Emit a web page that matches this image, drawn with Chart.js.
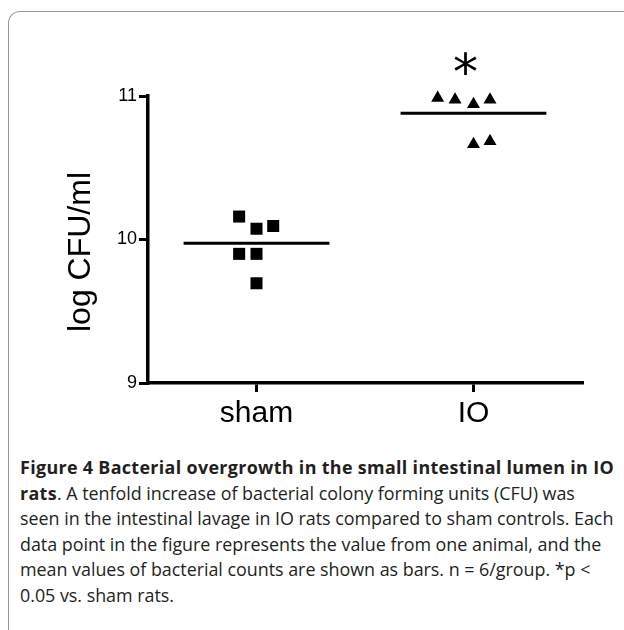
<!DOCTYPE html>
<html>
<head>
<meta charset="utf-8">
<script src="https://cdn.jsdelivr.net/npm/chart.js@4"></script>
<style>
	html, body { margin: 0; padding: 0; background: #fff; }
	body { width: 624px; height: 630px; position: relative; overflow: hidden; }
	#marco {
		position: absolute; left: 8px; top: 11px; width: 700px; height: 700px;
		border-top: 1.5px solid #9a9a9a; border-left: 1.5px solid #9a9a9a;
		border-top-left-radius: 12px;
	}
	#grafico { position: absolute; left: 0; top: 0; }
	#leyenda {
		position: absolute; left: 20px; top: 455px; width: 610px;
		font-family: "Open Sans", sans-serif; font-size: 17.9px; line-height: 25.6px;
		color: #231f20; white-space: nowrap; letter-spacing: -0.02px;
	}
	#leyenda b { font-weight: 700; letter-spacing: 0.33px; }
</style>
</head>
<body>
<div id="marco"></div>
<canvas id="grafico" width="624" height="440"></canvas>
<div id="leyenda">
	<b>Figure 4 Bacterial overgrowth in the small intestinal lumen in IO</b><br>
	<b>rats</b>. A tenfold increase of bacterial colony forming units (CFU) was<br>
	seen in the intestinal lavage in IO rats compared to sham controls. Each<br>
	data point in the figure represents the value from one animal, and the<br>
	mean values of bacterial counts are shown as bars. n = 6/group. *p &lt;<br>
	0.05 vs. sham rats.
</div>
<script>
// Datos (log CFU/ml)
const grupos = ['sham', 'IO'];
const shamValores = [10.16, 10.075, 10.094, 9.90, 9.90, 9.695];
const shamDesplaz = [-0.08, 0, 0.077, -0.08, 0, 0];
const ioValores = [10.986, 10.974, 10.942, 10.974, 10.663, 10.684];
const ioDesplaz = [-0.165, -0.085, 0, 0.076, 0, 0.076];
const medias = [9.974, 10.88];
const anchoMedia = 0.336;
const yTicks = [9, 10, 11];
const tituloY = 'log CFU/ml';
const marcaSignif = '*';
const marcaSignifY = 11.24;

function puntos(valores, desplaz, centro) {
	return valores.map((v, i) => ({ x: centro + desplaz[i], y: v }));
}
function lineaMedia(m, centro) {
	return [{ x: centro - anchoMedia, y: m }, { x: centro + anchoMedia, y: m }];
}

// Plugin: título del eje Y y asterisco de significancia
const textosExtra = {
	id: 'textosExtra',
	afterDatasetsDraw(chart) {
		const ctx = chart.ctx;
		const xs = chart.scales.x, ys = chart.scales.y;
		ctx.save();
		ctx.fillStyle = '#000';
		ctx.translate(81, 252);
		ctx.rotate(-Math.PI / 2);
		ctx.font = '32px "Liberation Sans", Arial, sans-serif';
		ctx.textAlign = 'center';
		ctx.textBaseline = 'middle';
		ctx.fillText(tituloY, 0, 0);
		ctx.restore();

		ctx.save();
		ctx.fillStyle = '#000';
		ctx.font = '50px "DejaVu Sans", sans-serif';
		ctx.textAlign = 'center';
		ctx.textBaseline = 'middle';
		ctx.fillText(marcaSignif, xs.getPixelForValue(1) - 8, ys.getPixelForValue(marcaSignifY) + 14);
		ctx.restore();
	}
};

new Chart(document.getElementById('grafico'), {
	type: 'scatter',
	data: {
		datasets: [
			{ data: puntos(shamValores, shamDesplaz, 0), pointStyle: 'rect', pointRadius: 8.5, backgroundColor: '#000', borderWidth: 0 },
			{ data: puntos(ioValores, ioDesplaz, 1), pointStyle: 'triangle', pointRadius: 7.5, backgroundColor: '#000', borderWidth: 0 },
			{ data: lineaMedia(medias[0], 0), showLine: true, pointRadius: 0, borderColor: '#000', borderWidth: 3 },
			{ data: lineaMedia(medias[1], 1), showLine: true, pointRadius: 0, borderColor: '#000', borderWidth: 3 }
		]
	},
	options: {
		responsive: false,
		animation: false,
		layout: { padding: { top: 96, right: 42, left: 0, bottom: 0 } },
		plugins: { legend: { display: false }, tooltip: { enabled: false } },
		clip: false,
		scales: {
			x: {
				type: 'linear', min: -0.5, max: 1.5,
				afterBuildTicks: s => { s.ticks = grupos.map((g, i) => ({ value: i })); },
				afterFit: s => { s.height = 440 - 383; },
				ticks: {
					callback: v => grupos[v],
					color: '#000', padding: 4,
					font: { family: '"Liberation Sans", Arial, sans-serif', size: 30 }
				},
				grid: { drawOnChartArea: false, color: '#000', lineWidth: 3, tickLength: 9 },
				border: { color: '#000', width: 3.5 }
			},
			y: {
				min: 9, max: 11,
				afterBuildTicks: s => { s.ticks = yTicks.map(v => ({ value: v })); },
				afterFit: s => { s.width = 148; },
				ticks: {
					color: '#000', padding: 2,
					font: { family: '"Liberation Sans", Arial, sans-serif', size: 18 }
				},
				grid: { drawOnChartArea: false, color: '#000', lineWidth: 3, tickLength: 9 },
				border: { color: '#000', width: 3.5 }
			}
		}
	},
	plugins: [textosExtra]
});
</script>
</body>
</html>
